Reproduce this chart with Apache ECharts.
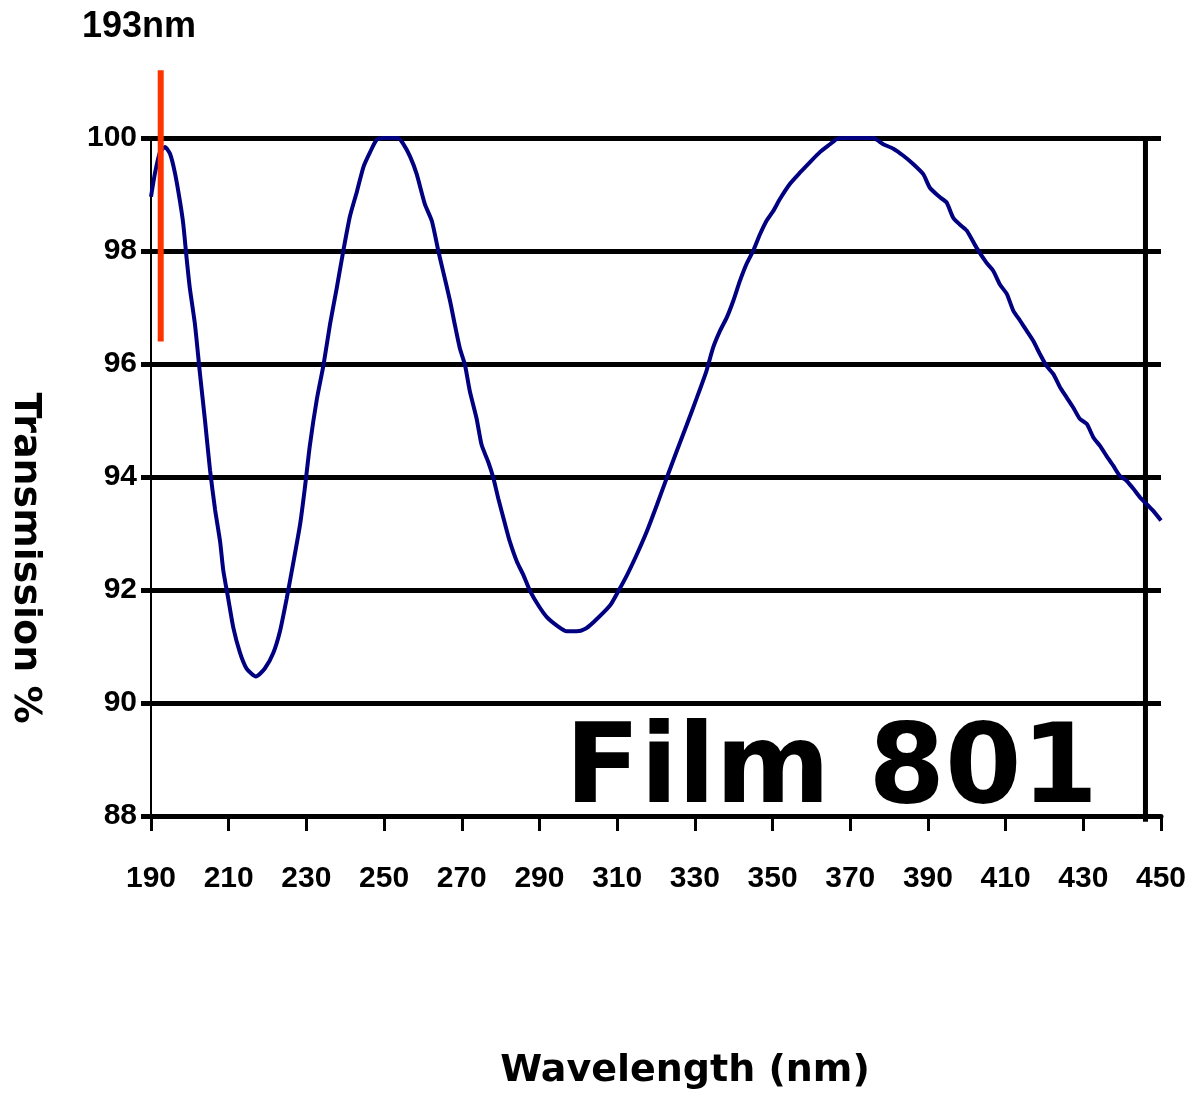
<!DOCTYPE html>
<html>
<head>
<meta charset="utf-8">
<script src="https://cdn.jsdelivr.net/npm/echarts@6/dist/echarts.min.js"></script>
<style>
    html, body { margin: 0; padding: 0; background: #fff; }
    #myChart { width: 1190px; height: 1102px; }
</style>
</head>
<body>
<div id="myChart"></div>
<script>
// wavelength (nm) and transmission (%)
const wavelength = [
    190.0, 191.0, 192.3, 193.6, 194.9, 196.2, 197.5, 198.3, 199.2, 200.0,
    201.3, 202.6, 203.9, 205.2, 206.5, 207.8, 208.6, 209.9, 211.2, 212.9,
    214.6, 217.0, 219.3, 221.5, 223.2, 224.9, 226.6, 228.4, 229.6, 230.9,
    232.7, 234.4, 236.1, 237.8, 239.5, 241.2, 243.0, 244.7, 246.4, 248.1,
    249.7, 253.6, 254.9, 256.7, 258.4, 260.5, 262.3, 264.0, 265.2, 267.0,
    268.2, 269.5, 270.8, 272.1, 273.8, 275.1, 276.8, 278.1, 279.4, 281.2,
    282.4, 284.2, 285.9, 287.6, 289.7, 291.9, 294.5, 297.0, 299.6, 301.7,
    303.9, 308.2, 310.3, 312.5, 315.0, 317.6, 320.2, 322.8, 325.3, 327.9,
    330.5, 333.0, 334.7, 336.5, 338.2, 339.9, 341.6, 343.3, 345.0, 346.8,
    348.5, 350.2, 351.9, 354.5, 357.1, 359.6, 362.2, 364.8, 366.5, 368.2,
    375.9, 378.5, 381.1, 383.6, 386.2, 388.8, 390.5, 393.1, 394.8, 396.5,
    398.2, 400.0, 402.5, 405.1, 406.8, 408.5, 410.3, 412.0, 413.7, 415.4,
    417.1, 418.8, 420.5, 422.3, 424.0, 425.7, 427.4, 429.1, 430.9, 432.6,
    434.3, 436.0, 437.7, 439.4, 441.2, 442.9, 444.6, 446.3, 448.0, 450.0
];
const transmission = [
    98.96, 99.37, 99.75, 99.84, 99.72, 99.37, 98.86, 98.48, 97.85, 97.34,
    96.71, 95.83, 95.00, 94.12, 93.42, 92.85, 92.35, 91.84, 91.33, 90.89,
    90.61, 90.47, 90.61, 90.89, 91.27, 91.84, 92.47, 93.17, 93.80, 94.56,
    95.38, 95.98, 96.71, 97.34, 98.00, 98.61, 99.05, 99.49, 99.75, 99.97,
    100.0, 100.0, 99.90, 99.67, 99.36, 98.83, 98.53, 97.99, 97.64, 97.11,
    96.70, 96.28, 95.99, 95.51, 95.04, 94.57, 94.27, 93.99, 93.62, 93.15,
    92.85, 92.50, 92.26, 91.98, 91.73, 91.52, 91.37, 91.27, 91.27, 91.31,
    91.43, 91.73, 91.98, 92.26, 92.62, 93.03, 93.50, 93.99, 94.45, 94.92,
    95.40, 95.88, 96.29, 96.59, 96.82, 97.12, 97.47, 97.77, 98.00, 98.30,
    98.54, 98.71, 98.92, 99.19, 99.39, 99.57, 99.75, 99.89, 99.98, 100.0,
    100.0, 99.89, 99.81, 99.69, 99.54, 99.36, 99.12, 98.95, 98.86, 98.59,
    98.47, 98.36, 98.06, 97.79, 97.65, 97.41, 97.24, 96.94, 96.77, 96.59,
    96.41, 96.18, 95.97, 95.82, 95.59, 95.41, 95.23, 95.03, 94.94, 94.70,
    94.55, 94.37, 94.20, 94.02, 93.93, 93.79, 93.64, 93.52, 93.40, 93.23
];
// 193 nm laser marker (orange bar) and the stray vertical rule near the right edge
const markerWavelength = [192.5, 192.5];
const markerRange = [101.2, 96.4];
const ruleWavelength = [446, 446];
const ruleRange = [100, 87.9];

const xMin = 190, xMax = 450, xStep = 20;
const yMin = 88, yMax = 100, yStep = 2;

const zip = (a, b) => a.map((v, i) => [v, b[i]]);

const tickFont = "'Liberation Sans Narrow', 'Arial Narrow', 'Liberation Sans', sans-serif";
const labelFont = "'DejaVu Sans', Verdana, sans-serif";

const chartDom = document.getElementById("myChart");
const myChart = echarts.init(chartDom, null, { renderer: "canvas" });

const option = {
    animation: false,
    backgroundColor: "#ffffff",
    grid: {
        left: 151,
        right: 29,
        top: 138,
        bottom: 286,
        containLabel: false,
    },
    xAxis: {
        type: "value",
        min: xMin,
        max: xMax,
        interval: xStep,
        axisLine: { show: true, onZero: false, lineStyle: { color: "#000", width: 5 } },
        axisTick: { show: true, length: 15, lineStyle: { color: "#000", width: 3 } },
        splitLine: { show: false },
        axisLabel: {
            color: "#000",
            fontFamily: tickFont,
            fontWeight: "bold",
            fontSize: 30,
            margin: 48,
        },
    },
    yAxis: {
        type: "value",
        min: yMin,
        max: yMax,
        interval: yStep,
        axisLine: { show: true, lineStyle: { color: "#000", width: 2 } },
        axisTick: { show: true, length: 10, lineStyle: { color: "#000", width: 5 } },
        splitLine: { show: true, lineStyle: { color: "#000", width: 5 } },
        axisLabel: {
            color: "#000",
            fontFamily: tickFont,
            fontWeight: "bold",
            fontSize: 30,
            margin: 14,
        },
    },
    graphic: [
        {
            type: "text",
            left: 82,
            top: 9,
            style: {
                text: "193nm",
                fill: "#000",
                font: "bold 36px 'Liberation Sans', Arial, sans-serif",
            },
        },
        {
            type: "text",
            x: 25,
            y: 558,
            rotation: -Math.PI / 2,
            style: {
                text: "Transmission %",
                fill: "#000",
                font: "bold 38px " + labelFont,
                align: "center",
                verticalAlign: "middle",
            },
        },
        {
            type: "text",
            x: 685,
            y: 1071,
            style: {
                text: "Wavelength (nm)",
                fill: "#000",
                font: "bold 38px " + labelFont,
                align: "center",
                verticalAlign: "middle",
            },
        },
        {
            type: "text",
            x: 565,
            y: 773,
            z: 20,
            style: {
                text: "Film 801",
                fill: "#000",
                font: "bold 110px " + labelFont,
                align: "left",
                verticalAlign: "middle",
            },
        },
    ],
    series: [
        {
            name: "rule",
            type: "line",
            data: zip(ruleWavelength, ruleRange),
            showSymbol: false,
            clip: false,
            silent: true,
            lineStyle: { color: "#000", width: 5 },
            z: 3,
        },
        {
            name: "Film 801",
            type: "line",
            data: zip(wavelength, transmission),
            showSymbol: false,
            smooth: 0.2,
            clip: false,
            lineStyle: { color: "#000080", width: 4 },
            z: 5,
        },
        {
            name: "193nm",
            type: "line",
            data: zip(markerWavelength, markerRange),
            showSymbol: false,
            clip: false,
            silent: true,
            lineStyle: { color: "#ff3300", width: 6, cap: "butt" },
            z: 6,
        },
    ],
};
myChart.setOption(option);
window.addEventListener("resize", () => myChart.resize());
</script>
</body>
</html>
